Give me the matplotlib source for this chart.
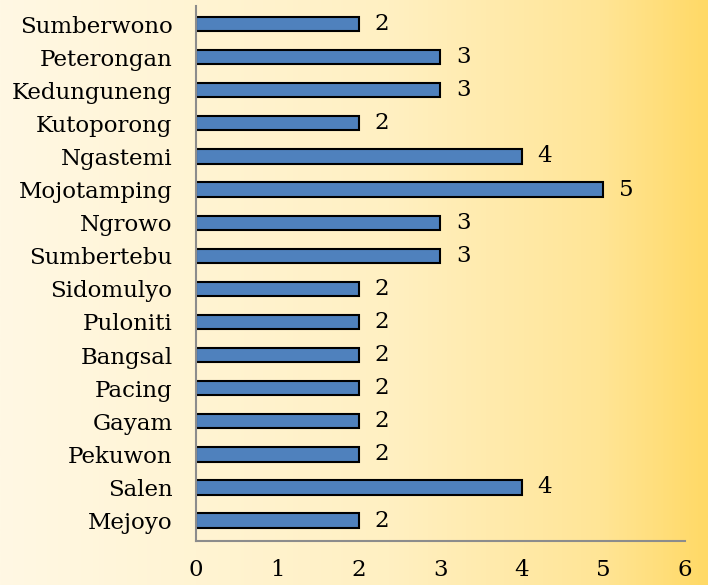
import numpy as np
import matplotlib
matplotlib.use("Agg")
import matplotlib.pyplot as plt
from matplotlib.colors import LinearSegmentedColormap

villages = ["Sumberwono", "Peterongan", "Kedunguneng", "Kutoporong", "Ngastemi",
            "Mojotamping", "Ngrowo", "Sumbertebu", "Sidomulyo", "Puloniti",
            "Bangsal", "Pacing", "Gayam", "Pekuwon", "Salen", "Mejoyo"]
counts = [2, 3, 3, 2, 4, 5, 3, 3, 2, 2, 2, 2, 2, 2, 4, 2]
xticks = [0, 1, 2, 3, 4, 5, 6]

plt.rcParams['font.family'] = ['DejaVu Serif']

fig = plt.figure(figsize=(7.08, 5.85), dpi=100)

# background gradient, cream to gold
bg = fig.add_axes([0, 0, 1, 1], zorder=-1)
cmap = LinearSegmentedColormap.from_list(
    "bg", [(0, "#fff8e4"), (0.55, "#fff0c2"), (0.85, "#ffe596"), (1, "#ffd966")])
bg.imshow(np.linspace(0, 1, 256)[None, :], aspect="auto", cmap=cmap,
          extent=[0, 1, 0, 1])
bg.axis("off")

ax = fig.add_axes([0.277, 0.075, 0.690, 0.915])
ax.patch.set_alpha(0)
pos = np.arange(len(villages))[::-1]
ax.barh(pos, counts, height=0.43, color="#4f81bd", edgecolor="black", linewidth=1.5)
for p, c in zip(pos, counts):
    ax.text(c + 0.19, p, str(c), va="center", ha="left", fontsize=16.5)

ax.set_yticks(pos)
ax.set_yticklabels(villages, fontsize=16.5)
ax.set_xticks(xticks)
ax.set_xticklabels([str(t) for t in xticks], fontsize=16.5)
ax.set_xlim(0, 6)
ax.set_ylim(-0.62, 15.55)
ax.tick_params(length=0)
ax.tick_params(axis="y", pad=17)
ax.tick_params(axis="x", pad=13)
for s in ["top", "right"]:
    ax.spines[s].set_visible(False)
for s in ["left", "bottom"]:
    ax.spines[s].set_color("#8c8c8c")
    ax.spines[s].set_linewidth(1.5)

fig.savefig("out.png", dpi=100)
